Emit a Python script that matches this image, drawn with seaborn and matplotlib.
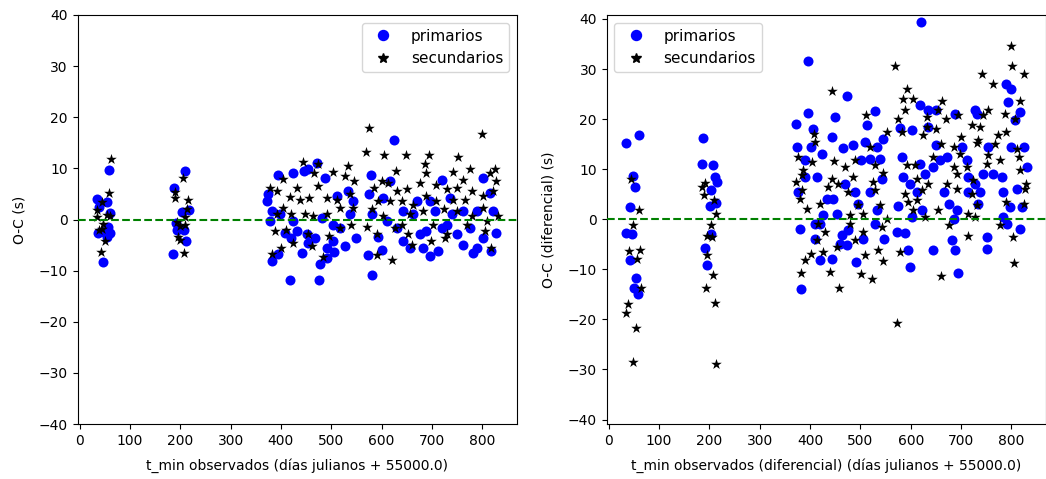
import matplotlib
matplotlib.use("Agg")
import matplotlib.pyplot as plt
from matplotlib.lines import Line2D
import seaborn as sns
import pandas as pd

# ---- O-C residuals, primary minima (left panel) ----
oc_prim_t = [59, 35, 54, 60, 39, 37, 60, 49, 54, 46, 57,
             209.5, 188, 203, 218, 192, 194, 207, 211.5, 186,
             624.6, 419, 476, 581, 382, 395, 441, 478, 491, 505, 527, 550, 572, 600, 593,
             395, 425, 445, 454, 471, 487, 375, 372, 382, 378, 398, 425, 408, 431, 451,
             468, 481, 504, 511, 534, 544, 537, 517, 578, 574, 580, 603, 617, 630, 610,
             643, 656, 670, 663, 676, 696, 713, 683, 696, 706, 719, 736, 729, 749, 762,
             739, 782, 789, 776, 802, 815, 822, 828, 818, 802, 789, 762, 643, 689, 719,
             504, 454, 421, 491]
oc_prim_v = [9.7, 4.1, 3.5, 1.2, 2.5, -2.7, -2.7, -2.4, -3.4, -8.3, -1.4,
             9.4, 6.1, 1.5, 1.9, -0.7, -2.0, -2.0, -4.3, -6.8,
             15.5, -11.9, -11.9, -10.9, -8.2, -6.7, -6.5, -8.8, -7.5, -6.3, -5.2, -3.6, -7.0, -5.9, -3.5,
             8.8, 9.1, 9.5, 9.8, 11.1, 8.2, 4.9, 3.6, 1.6, -0.3, 1.0, -0.3, -2.6, -2.3, -2.9,
             -3.6, 0.3, -1.0, 4.6, 5.5, 3.6, 1.0, -1.6, 8.7, 4.9, 1.0, 4.2, 7.5, -1.6, -0.3,
             -4.2, -5.5, 3.6, 1.0, -2.9, -7.2, -6.2, -5.5, 3.6, 1.6, 7.8, 4.2, -1.0, -2.9, -4.9,
             1.0, -6.5, -5.5, -1.6, 8.2, 5.2, 1.6, -2.6, -6.2, -3.6, 1.6, 1.6, 1.6, -2.3, -1.6,
             -4.2, -4.6, -3.6, -5.5]

# ---- O-C residuals, secondary minima (left panel) ----
oc_sec_t = [62, 59, 44, 35, 34, 60, 47, 44, 39, 51, 42, 54,
            205, 190, 190, 216, 214, 209, 193, 199, 209, 196, 199, 207.5,
            575.6, 799, 569, 605, 648, 695, 752, 443, 474, 534, 504, 628, 686, 689, 741,
            775, 825, 815, 828, 405, 466, 527, 545, 600, 613, 378, 392, 431, 418, 438,
            456, 474, 491, 511, 537, 544, 517, 585, 630, 650, 676, 709, 729, 749, 762,
            779, 802, 822, 766, 742, 709, 689, 663, 640, 617, 593, 405, 421, 448, 464,
            491, 392, 580, 603, 656, 683, 723, 749, 779, 802, 832, 809, 769, 703, 640,
            570, 540, 517, 388, 410, 454, 496, 627, 653, 590, 729, 805, 401, 425, 461,
            382, 483, 590, 620, 660, 699, 726, 818]
oc_sec_v = [11.8, 5.1, 3.5, 1.8, 0.5, 0.6, -0.8, -1.8, -2.1, -4.3, -6.3, 0.9,
            8.2, 5.4, 4.3, 3.8, 2.1, 0.5, -0.5, -1.2, -1.0, -3.4, -4.0, -6.6,
            17.9, 16.8, 13.2, 12.7, 12.6, 12.6, 12.2, 11.2, 10.9, 10.4, 9.3, 9.5, 10.8, 9.1, 9.3,
            9.8, 9.8, 9.1, 7.5, 8.0, 9.1, 8.5, 7.5, 7.5, 7.2, 6.2, 5.5, 6.1, 4.4, 3.9,
            4.2, 6.5, 4.2, 3.9, 5.0, 2.3, 2.3, 6.1, 5.5, 5.9, 7.2, 6.8, 5.9, 6.2, 7.8,
            5.5, 4.6, 5.5, 3.9, 3.9, 3.6, 4.6, 2.9, 3.6, 3.6, 3.6, 2.3, 1.0, 1.0, 0.7,
            1.0, 1.0, 2.0, 0.7, 1.0, 1.6, 2.0, 1.6, 0.7, 2.3, 0.7, -0.3, -1.0, -1.0, -1.0,
            -1.5, -1.1, -1.6, -2.3, -2.0, -2.8, -3.3, -1.6, -2.9, -2.9, -2.9, -2.3, -5.5, -4.6, -5.2,
            -6.7, -7.4, -7.0, -8.0, -4.9, -4.2, -3.7, -5.5]

# ---- differential O-C, primary minima (right panel) ----
dif_prim_t = [35, 60, 48.4, 53, 43, 35, 47, 42, 55, 50, 58,
              187.6, 186, 207, 211, 215, 204, 201, 213, 203, 192, 196,
              620, 395, 472.5, 396, 373, 449, 529, 514, 406, 443, 374, 401, 423, 466,
              486, 509, 545, 532, 502, 519, 539, 390, 414, 390, 376, 433, 446, 469,
              489, 496, 519, 542, 532, 453, 426, 409, 380, 419.5, 409, 463, 476, 459,
              472.5, 506, 529, 547, 419.5, 443, 492, 381, 575, 582, 578, 602, 618, 635,
              651, 635, 618, 628, 585, 598, 612, 622, 602, 572, 588, 595, 598, 645,
              681, 688, 694, 651, 658, 671, 645, 665, 675, 691, 688, 728, 731, 701,
              714, 728, 744, 754, 764, 781, 734, 751, 752, 738, 784, 790, 800, 794,
              817, 807, 800, 824, 830, 810, 820, 797, 791, 816, 784, 711, 714, 685]
dif_prim_v = [15.3, 16.8, 8.6, 6.5, 2.5, -2.7, -2.9, -8.2, -11.8, -13.8, -15.0,
              16.2, 11.0, 10.8, 8.5, 7.5, 5.8, 2.7, 3.3, -2.9, -5.7, -9.2,
              39.4, 31.7, 24.6, 21.3, 19.1, 20.4, 21.6, 18.8, 18.1, 16.4, 14.4, 14.4, 13.1, 14.3,
              14.8, 15.4, 16.1, 14.4, 11.8, 12.1, 12.1, 11.8, 8.5, 8.5, 5.5, 4.1, 4.1, 7.1,
              5.5, 3.1, 5.5, 8.1, 1.8, 1.1, 0.8, -0.9, -1.9, -0.9, -3.9, -3.2, -2.2, -4.9,
              -5.2, -3.9, -0.9, -3.9, -8.2, -7.9, -8.6, -13.9, 2.6, 12.4, 18.3, 17.8, 22.8, 21.8,
              21.8, 18.4, 11.1, 9.1, 8.4, 7.1, 5.5, 1.9, 0.5, -2.5, -2.7, -6.2, -9.5, -6.2,
              -4.2, -6.2, -10.8, 14.8, 11.8, 12.4, 10.4, 5.5, 3.1, 1.8, 21.1, 21.8, 21.1, 14.4,
              8.5, 7.1, 9.1, 14.4, 9.1, 8.5, 3.1, -3.5, -5.9, 5.5, 5.5, 27.1, 26.1, 23.4,
              21.4, 19.8, 14.4, 14.4, 10.4, 6.1, 2.5, 2.5, -0.9, -2.0, 0.5, 11.8, 5.5, 0.1]

# ---- differential O-C, secondary minima (right panel) ----
dif_sec_t = [44, 60, 48, 40, 63, 56, 65, 38, 35, 55, 48,
             192, 186, 189, 209, 214, 203, 195, 205, 196, 207, 193, 212, 213,
             799, 800.5, 825, 569, 741, 764, 443, 592, 585, 605, 663, 816, 588, 655,
             694.5, 754, 787, 512, 575, 631.5, 669, 743, 807, 721, 738, 651, 631.5, 552,
             583, 625, 407.5, 409.5, 699, 774, 790, 734, 519, 661, 685, 731, 767, 810,
             376, 403, 448, 490, 469, 529, 645, 698, 754, 777, 814, 685, 711, 751,
             608, 592, 386, 383, 544, 486, 443, 373, 456, 525, 612, 635, 671, 691,
             724, 817, 829, 827, 383, 436, 476, 529, 588.5, 622, 380, 595, 612, 691,
             722, 419.5, 539, 731, 790, 824, 393, 605, 655, 496, 479, 506, 552, 628,
             714, 728, 416, 479, 675, 777, 542, 429, 506, 414, 489, 714, 804, 452.5,
             426, 535.5, 578, 390, 509, 545, 439, 381, 502, 522, 660, 806, 458, 572, 402]
dif_sec_v = [8.1, 1.8, -1.2, -6.3, -6.2, -7.9, -13.8, -17.0, -18.8, -21.7, -28.6,
             7.3, 6.5, 4.8, 3.9, 1.0, -1.2, -3.3, -3.5, -7.2, -11.2, -13.7, -16.8, -29.0,
             34.6, 30.6, 29.1, 30.6, 29.1, 27.1, 25.7, 26.1, 24.1, 24.1, 23.6, 23.6, 21.9, 21.8,
             20.8, 21.8, 21.1, 20.8, 20.1, 20.4, 20.1, 20.8, 20.1, 18.8, 18.4, 18.1, 18.4, 17.4,
             17.4, 16.8, 17.1, 15.4, 16.4, 16.8, 17.4, 15.8, 14.4, 15.1, 14.4, 15.2, 15.1, 14.1,
             12.4, 11.4, 11.6, 11.8, 10.4, 10.8, 12.4, 13.1, 12.8, 11.8, 12.4, 10.4, 10.4, 11.1,
             10.8, 10.8, 9.9, 8.8, 9.3, 8.5, 8.1, 7.5, 7.1, 7.5, 8.1, 7.1, 7.1, 9.1,
             7.8, 9.8, 7.1, 6.1, 5.8, 6.5, 5.5, 5.8, 5.1, 5.8, 4.1, 3.5, 3.8, 6.1,
             5.1, 3.1, 2.8, 2.8, 3.5, 3.1, 2.1, 1.8, 1.8, 2.8, 0.8, 1.1, 0.1, 0.5,
             1.1, 0.5, -0.9, -0.9, -1.2, -1.2, -1.5, -2.5, -2.5, -4.2, -4.2, -3.3, -3.5, -5.5,
             -6.5, -6.2, -6.5, -8.2, -7.2, -8.3, -10.5, -10.8, -11.0, -12.0, -11.3, -8.8, -13.8, -20.7, -6.9]

fig = plt.figure(figsize=(10.46, 4.79), dpi=100)
ax1 = fig.add_axes([0.0741, 0.1148, 0.4202, 0.8539])
ax2 = fig.add_axes([0.5800, 0.1148, 0.4202, 0.8539])

panels = [
    (ax1, oc_prim_t, oc_prim_v, oc_sec_t, oc_sec_v, "O-C (s)",
     "t_min observados (días julianos + 55000.0)", (-40, 40), "upper right"),
    (ax2, dif_prim_t, dif_prim_v, dif_sec_t, dif_sec_v, "O-C (diferencial) (s)",
     "t_min observados (diferencial) (días julianos + 55000.0)", (-40.9, 40.8), "upper left"),
]

legend_handles = [
    Line2D([], [], color="blue", marker="o", linestyle="", markersize=7.2, label="primarios"),
    Line2D([], [], color="black", marker="*", linestyle="", markersize=7.2, label="secundarios"),
]

for ax, pt, pv, st, sv, ylab, xlab, ylim, loc in panels:
    prim = pd.DataFrame({"t": pt, "oc": pv})
    sec = pd.DataFrame({"t": st, "oc": sv})
    sns.scatterplot(data=prim, x="t", y="oc", ax=ax, color="blue", marker="o",
                    s=52, linewidth=0, legend=False, zorder=2)
    sns.scatterplot(data=sec, x="t", y="oc", ax=ax, color="black", marker="*",
                    s=64, linewidth=0, legend=False, zorder=3)
    ax.axhline(0, color="green", linestyle="--", linewidth=1.5, zorder=4)
    ax.set_xlim(-4, 869)
    ax.set_ylim(*ylim)
    ax.set_xticks(range(0, 900, 100))
    ax.set_yticks(range(-40, 50, 10))
    ax.set_xlabel(xlab, labelpad=8)
    ax.set_ylabel(ylab, labelpad=9)
    ax.legend(handles=legend_handles, loc=loc, fontsize=11)

fig.savefig("out.png", dpi=100)
